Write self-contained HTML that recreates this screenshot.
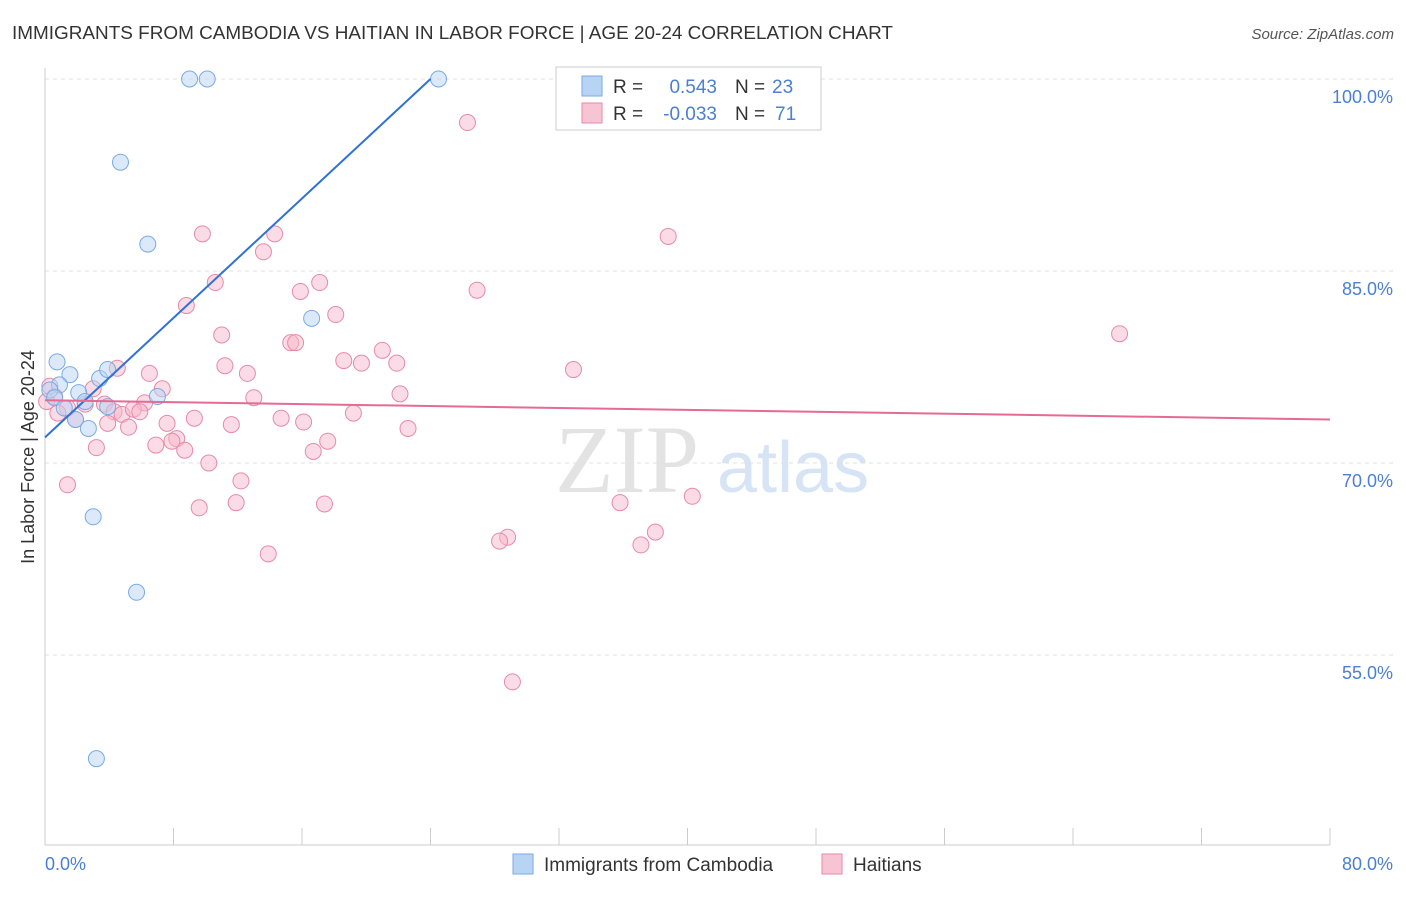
<!DOCTYPE html>
<html><head><meta charset="utf-8"><style>
body{margin:0;background:#fff;font-family:"Liberation Sans",sans-serif;}
</style></head><body>
<svg width="1406" height="892" xmlns="http://www.w3.org/2000/svg" font-family="Liberation Sans, sans-serif">
<text x="12" y="39" font-size="18" fill="#333" textLength="881" lengthAdjust="spacingAndGlyphs">IMMIGRANTS FROM CAMBODIA VS HAITIAN IN LABOR FORCE | AGE 20-24 CORRELATION CHART</text>
<text x="1394" y="39" font-size="15" fill="#555" text-anchor="end" font-style="italic">Source: ZipAtlas.com</text>
<text x="555" y="492" font-size="96" fill="#e3e3e3" font-family="Liberation Serif, serif">ZIP</text>
<text x="717" y="492" font-size="72" fill="#d6e4f5">atlas</text>
<g id="grid"></g>
<line x1="45" y1="68" x2="45" y2="845" stroke="#ccc"/>
<line x1="45" y1="845" x2="1330" y2="845" stroke="#ccc"/>
<text transform="translate(34,457) rotate(-90)" font-size="18" fill="#333" text-anchor="middle">In Labor Force | Age 20-24</text>
<text x="45" y="870" font-size="18" fill="#4a7fd4">0.0%</text>
<text x="1393" y="870" font-size="18" fill="#4a7fd4" text-anchor="end">80.0%</text>
<g id="pts"></g>
<g id="lines"></g>
<g font-size="19">
<rect x="556" y="67" width="265" height="63" fill="#fff" stroke="#ccc"/>
<rect x="582" y="76" width="20" height="20" fill="#b8d4f5" stroke="#7aaae6"/>
<rect x="582" y="103" width="20" height="20" fill="#f7c4d4" stroke="#e88aa8"/>
<text x="613" y="93" fill="#333">R =</text>
<text x="717" y="93" fill="#4a7fd4" text-anchor="end">0.543</text>
<text x="735" y="93" fill="#333">N =</text>
<text x="772" y="93" fill="#4a7fd4">23</text>
<text x="613" y="120" fill="#333">R =</text>
<text x="717" y="120" fill="#4a7fd4" text-anchor="end">-0.033</text>
<text x="735" y="120" fill="#333">N =</text>
<text x="775" y="120" fill="#4a7fd4">71</text>
</g>
<g>
<rect x="513" y="854" width="20" height="20" fill="#b8d4f5" stroke="#7aaae6"/>
<text x="544" y="871" font-size="19" fill="#333">Immigrants from Cambodia</text>
<rect x="822" y="854" width="20" height="20" fill="#f7c4d4" stroke="#e88aa8"/>
<text x="853" y="871" font-size="19" fill="#333">Haitians</text>
</g>
</svg>
<script>
const yTicks=[100,85,70,55];
const xTicks=[0,8,16,24,32,40,48,56,64,72,80];
const blueX=[9.0,10.1,24.5,4.7,6.4,16.6,0.75,1.55,3.4,3.9,0.9,0.3,2.1,0.6,2.5,3.9,7.0,1.9,2.7,3.0,5.7,3.2,1.2];
const blueY=[100,100,100,93.5,87.1,81.3,77.9,76.9,76.6,77.3,76.1,75.7,75.5,75.1,74.8,74.4,75.2,73.4,72.7,65.8,59.9,46.9,74.3];
const pinkX=[26.3,9.8,14.3,38.8,13.6,10.6,17.1,15.9,26.9,8.8,18.1,66.9,11.0,15.3,15.6,21.0,18.6,19.7,21.9,11.2,4.5,32.9,6.5,12.6,3.0,7.3,22.1,13.0,0.6,6.2,2.5,3.7,1.4,0.8,4.3,4.8,5.5,5.9,19.2,9.3,14.7,1.9,3.9,7.6,16.1,5.2,11.6,22.6,8.2,7.9,17.6,6.9,3.2,8.7,16.7,10.2,12.2,1.4,11.9,9.6,17.4,35.8,40.3,28.8,28.3,38.0,37.1,13.9,29.1,0.3,0.1];
const pinkY=[96.6,87.9,87.9,87.7,86.5,84.1,84.1,83.4,83.5,82.3,81.6,80.1,80.0,79.4,79.4,78.8,78.0,77.8,77.8,77.6,77.4,77.3,77.0,77.0,75.8,75.8,75.4,75.1,75.2,74.7,74.6,74.6,74.3,73.9,74.0,73.8,74.2,74.0,73.9,73.5,73.5,73.4,73.1,73.1,73.2,72.8,73.0,72.7,71.9,71.7,71.7,71.4,71.2,71.0,70.9,70.0,68.6,68.3,66.9,66.5,66.8,66.9,67.4,64.2,63.9,64.6,63.6,62.9,52.9,76.0,74.8];
const blueLine=[[0,72.0],[24,100]];
const pinkLine=[[0,74.9],[80,73.4]];
const sx=v=>45+v*1285/80, sy=v=>79+(100-v)*192/15;
const NS='http://www.w3.org/2000/svg';
function mk(t,a,p){const e=document.createElementNS(NS,t);for(const k in a)e.setAttribute(k,a[k]);document.getElementById(p).appendChild(e);return e;}
yTicks.forEach(v=>{
 const l=mk('line',{x1:45,x2:1393,y1:sy(v),y2:sy(v),stroke:'#e0e0e0','stroke-dasharray':'4,4'},'grid');
 
 
 const t=mk('text',{x:1393,y:sy(v)+24,'font-size':18,fill:'#4a7fd4','text-anchor':'end'},'grid');
 t.textContent=v.toFixed(1)+'%';
 
 
});
xTicks.forEach(v=>{
 const l=mk('line',{x1:sx(v),x2:sx(v),y1:828,y2:845,stroke:'#ccc'},'grid');
 
 
});
pinkX.forEach((x,i)=>{
 const c=mk('circle',{cx:sx(x),cy:sy(pinkY[i]),r:8,fill:'#f7b8cb','fill-opacity':0.5,stroke:'#e88aa8','stroke-width':1},'pts');
 
 
});
blueX.forEach((x,i)=>{
 const c=mk('circle',{cx:sx(x),cy:sy(blueY[i]),r:8,fill:'#b8d4f5','fill-opacity':0.5,stroke:'#7aaae6','stroke-width':1},'pts');
 
 
});
const bl=mk('line',{x1:sx(blueLine[0][0]),y1:sy(blueLine[0][1]),x2:sx(blueLine[1][0]),y2:sy(blueLine[1][1]),stroke:'#2f72d6','stroke-width':2},'lines');


const pl=mk('line',{x1:sx(pinkLine[0][0]),y1:sy(pinkLine[0][1]),x2:sx(pinkLine[1][0]),y2:sy(pinkLine[1][1]),stroke:'#e56a94','stroke-width':2},'lines');


</script>
</body></html>
